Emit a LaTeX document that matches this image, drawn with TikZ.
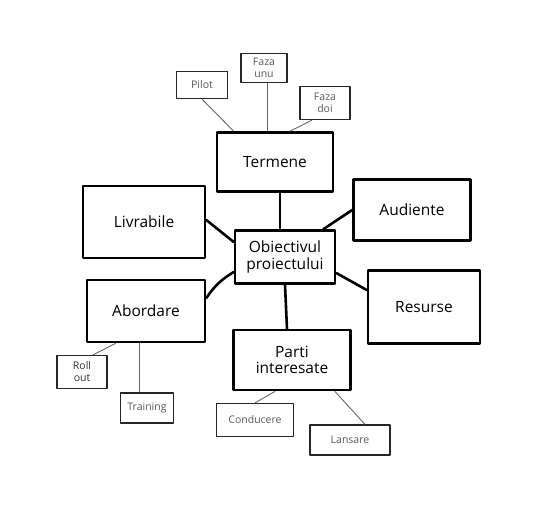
\documentclass[tikz,border=0pt]{standalone}
\usepackage{fontspec}
\setmainfont{Open Sans}
\usetikzlibrary{calc}
\tikzset{
  bigbox/.style={draw=black, line width=2.6pt, line join=round, fill=white, inner sep=0pt, align=center, font=\fontsize{15.5}{16.5}\selectfont, text=black},
  smallbox/.style={draw=black!85, line width=1.2pt, line join=round, fill=white, inner sep=0pt, align=center, font=\fontsize{10.5}{12}\selectfont, text=black!65},
  bigline/.style={draw=black, line width=2.6pt, line cap=round},
  smallline/.style={draw=black!60, line width=0.9pt}
}
\begin{document}
\begin{tikzpicture}[x=1pt,y=-1pt]
\useasboundingbox (0,0) rectangle (550,525);
% big boxes
\node[bigbox, minimum width=116pt, minimum height=59pt] (termene) at (275,162) {Termene};
\node[bigbox, minimum width=122pt, minimum height=72pt] (livrabile) at (144,222) {Livrabile};
\node[bigbox, minimum width=117pt, minimum height=61pt] (audiente) at (412,210) {Audiente};
\node[bigbox, minimum width=100pt, minimum height=53pt] (obj) at (285,257) {Obiectivul\\proiectului};
\node[bigbox, minimum width=118pt, minimum height=62pt] (abordare) at (146,311) {Abordare};
\node[bigbox, minimum width=112pt, minimum height=73pt] (resurse) at (424,307) {Resurse};
\node[bigbox, minimum width=117pt, minimum height=60pt] (parti) at (292,360) {Parti\\interesate};
% small boxes
\node[smallbox, minimum width=51pt, minimum height=27pt] (pilot) at (202,85) {Pilot};
\node[smallbox, minimum width=46pt, minimum height=29pt] (fazaunu) at (264,68) {Faza\\unu};
\node[smallbox, minimum width=50pt, minimum height=33pt] (fazadoi) at (325,103) {Faza\\doi};
\node[smallbox, minimum width=50pt, minimum height=33pt, text=black!80] (rollout) at (82,372) {Roll\\out};
\node[smallbox, minimum width=53pt, minimum height=30pt] (training) at (147,408) {Training};
\node[smallbox, minimum width=77pt, minimum height=33pt] (conducere) at (255,420) {Conducere};
\node[smallbox, minimum width=80pt, minimum height=30pt] (lansare) at (350,440) {Lansare};
% big connectors
\draw[bigline] ($(termene.south)+(5,0)$) -- ($(obj.north)+(-5,0)$);
\draw[bigline] ($(livrabile.east)+(0,-2)$) -- ($(obj.west)+(0,-15)$);
\draw[bigline] (audiente.west) -- ($(obj.north east)+(-13,0)$);
\draw[bigline] ($(abordare.east)+(0,-13)$) to[bend left=12] ($(obj.west)+(0,15)$);
\draw[bigline] ($(obj.east)+(0,16)$) -- ($(resurse.west)+(0,-17)$);
\draw[bigline] (obj.south) -- ($(parti.north)+(-5,0)$);
% small connectors
\draw[smallline] (pilot.south) -- ($(termene.north west)+(18,0)$);
\draw[smallline] ($(fazaunu.south)+(3,0)$) -- ($(termene.north)+(-8,0)$);
\draw[smallline] ($(fazadoi.south)+(-13,0)$) -- ($(termene.north)+(15,0)$);
\draw[smallline] ($(rollout.north)+(11,0)$) -- ($(abordare.south west)+(30,0)$);
\draw[smallline] ($(abordare.south)+(-7,0)$) -- ($(training.north)+(-8,0)$);
\draw[smallline] (conducere.north) -- ($(parti.south west)+(43,0)$);
\draw[smallline] ($(parti.south east)+(-17,0)$) -- ($(lansare.north)+(15,0)$);
\end{tikzpicture}
\end{document}
